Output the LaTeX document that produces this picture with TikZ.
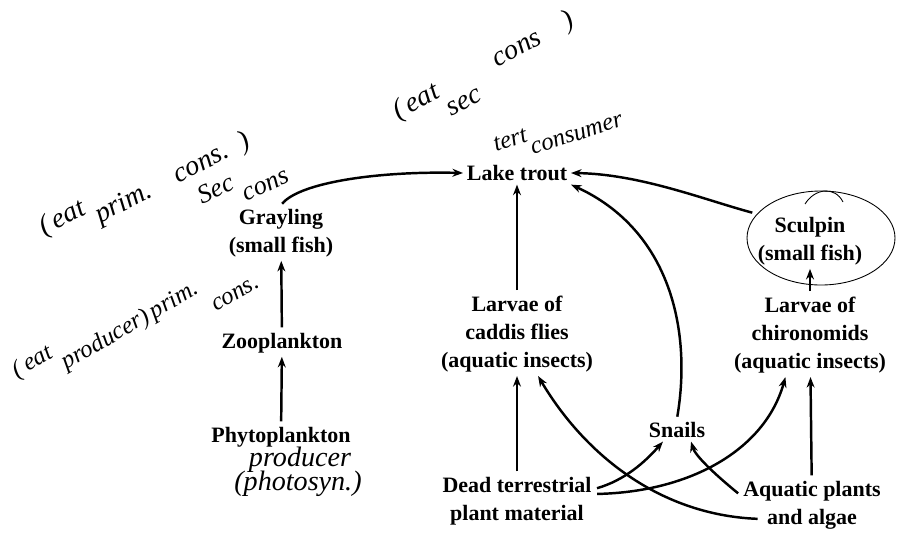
\documentclass[tikz,border=0pt]{standalone}
\usepackage{fontspec}
\setmainfont{Liberation Serif}
\usetikzlibrary{arrows.meta,positioning}

\tikzset{
  org/.style={font=\bfseries\fontsize{12.5}{16}\selectfont, align=center, inner sep=2pt},
  feed/.style={-{Stealth[length=6pt,width=4.5pt]}, line width=1.4pt, shorten <=1pt},
  hand/.style={font=\itshape\fontsize{15}{16}\selectfont, inner sep=0pt},
  ink/.style={line width=0.5pt},
}

\begin{document}
\begin{tikzpicture}[x=0.02cm,y=-0.02cm]
\useasboundingbox (0,0) rectangle (898,538);

% organisms
\node[org] (trout) at (517,173) {Lake trout};
\node[org] (grayling) at (281,233) {Grayling\\(small fish)};
\node[org] (zoo) at (282,343) {Zooplankton};
\node[org] (phyto) at (281,437) {Phytoplankton};
\node[org] (caddis) at (517,334) {Larvae of\\caddis flies\\(aquatic insects)};
\node[org] (sculpin) at (810,241) {Sculpin\\(small fish)};
\node[org] (chiro) at (810,335) {Larvae of\\chironomids\\(aquatic insects)};
\node[org] (snails) at (677,430) {Snails};
\node[org] (dead) at (517,501) {Dead terrestrial\\plant material};
\node[org] (algae) at (812,505) {Aquatic plants\\and algae};

% straight links
\draw[feed] (zoo) -- (grayling);
\draw[feed] (phyto) -- (zoo);
\draw[feed] (caddis) -- (trout);
\draw[feed] (chiro) -- (sculpin);
\draw[feed] (dead) -- (caddis);
\draw[feed] (algae) -- (chiro);

% curved links
\draw[feed] (grayling.north) .. controls (300,182) and (380,171) .. (trout.west);
\draw[feed] (sculpin.north west) .. controls (705,200) and (640,174) .. (trout.east);
\draw[feed] (snails.north) .. controls (692,330) and (670,230) .. (trout.south east);
\draw[feed] ([yshift=7pt]dead.east) .. controls (625,480) and (645,462) .. ([xshift=-8pt]snails.south);
\draw[feed] ([yshift=4pt]dead.east) .. controls (690,492) and (765,450) .. ([xshift=-14pt]chiro.south);
\draw[feed] ([yshift=6pt]algae.west) .. controls (712,472) and (695,455) .. ([xshift=8pt]snails.south);
\draw[feed] ([xshift=-30pt,yshift=8pt]algae.south) .. controls (660,515) and (585,455) .. ([xshift=12pt]caddis.south);

% pen notes
\draw[ink] (821,238) ellipse [x radius=74, y radius=47];
\draw[ink] (805,204) .. controls (815,188) and (835,186) .. (843,202);
\node[hand, rotate=27, font=\itshape\fontsize{16}{17}\selectfont] (eatprim) at (145,185) {\raisebox{.5em}{(\,eat}\ prim.\quad cons.\ \ )};
\node[hand, rotate=25] (seccons) at (243,185) {Sec\raisebox{-.6em}{\,cons}};
\node[hand, rotate=28, font=\itshape\fontsize{16}{17}\selectfont] (eatsec) at (488,74) {(\,eat\raisebox{-.8em}{sec}\quad cons\quad )};
\node[hand, rotate=18, font=\itshape\fontsize{14}{15}\selectfont] (tert) at (558,132) {tert\raisebox{-.6em}{consumer}};
\node[hand, rotate=30, font=\itshape\fontsize{14}{15}\selectfont] (eatprod) at (135,325) {\raisebox{.7em}{(\,eat}\,producer)\,prim.\raisebox{-1em}{\,cons.}};
\node[hand, font=\itshape\fontsize{16}{17}\selectfont] (prod) at (300,460) {producer};
\node[hand, font=\itshape\fontsize{16}{17}\selectfont] (photo) at (298,484) {(photosyn.)};
\end{tikzpicture}
\end{document}
